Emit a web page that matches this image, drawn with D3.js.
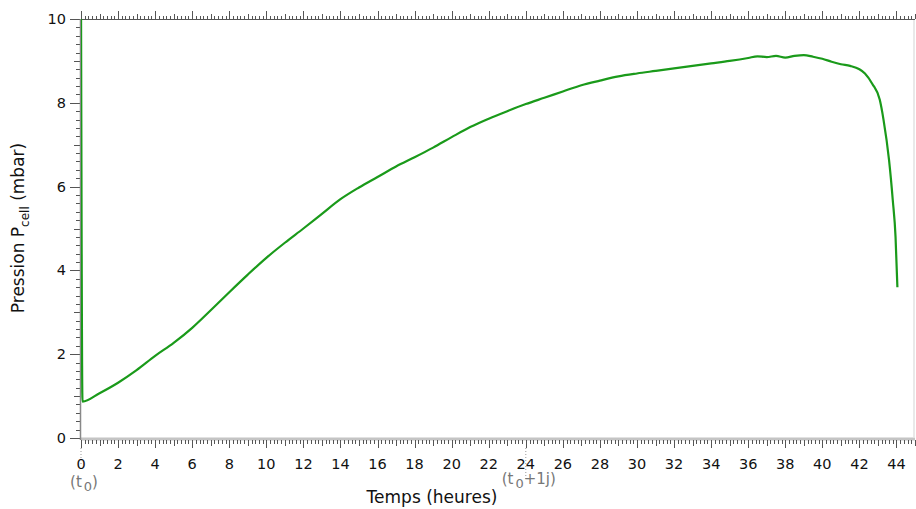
<!DOCTYPE html>
<html>
<head>
<meta charset="utf-8">
<script src="https://cdn.jsdelivr.net/npm/d3@7"></script>
<style>
  body { margin: 0; background: #fff; }
  text { font-family: "DejaVu Sans", Verdana, sans-serif; }
</style>
</head>
<body>
<script>
const width = 916;
const height = 509;

// temps (heures) et pression (mbar)
const hours = [0, 0.08, 1, 2, 3, 4, 5, 6, 7, 8, 9, 10, 11, 12, 13, 14, 15, 16, 17, 18, 19, 20,
  21, 22, 23, 24, 25, 26, 27, 28, 29, 30, 31, 32, 33, 34, 35, 36, 36.5, 37, 37.5, 38, 38.5, 39,
  39.5, 40, 40.5, 41, 41.5, 42, 42.3, 42.7, 43.1, 43.3, 43.6, 43.8, 43.95, 44.05];
const pressure = [10.6, 0.87, 1.07, 1.32, 1.62, 1.96, 2.27, 2.63, 3.05, 3.48, 3.9, 4.3, 4.66, 5.0,
  5.35, 5.7, 5.98, 6.23, 6.48, 6.7, 6.93, 7.18, 7.42, 7.62, 7.8, 7.97, 8.12, 8.27, 8.42, 8.53,
  8.63, 8.7, 8.76, 8.82, 8.88, 8.94, 9.0, 9.07, 9.11, 9.09, 9.12, 9.08, 9.12, 9.14, 9.1, 9.05,
  8.98, 8.92, 8.88, 8.8, 8.7, 8.45, 8.07, 7.6, 6.63, 5.68, 4.8, 3.6];
const xTicks = d3.range(0, 46, 2);
const yTicks = [0, 2, 4, 6, 8, 10];

let margin = { top: 19, right: 1, bottom: 71, left: 81 };

let svg = d3.select("body").append("svg")
  .attr("width", width)
  .attr("height", height);

let xScale = d3.scaleLinear().domain([0, 45]).range([margin.left, width - margin.right]);
let yScale = d3.scaleLinear().domain([0, 10]).range([height - margin.bottom, margin.top]);

let data = hours.map((h, i) => ({ h: h, p: pressure[i] }));

svg.append("clipPath").attr("id", "clip")
  .append("rect")
  .attr("x", margin.left)
  .attr("y", margin.top)
  .attr("width", width - margin.left - margin.right)
  .attr("height", yScale(0) - margin.top);

// frame lines
const frameColor = "#c4c4c4";
svg.append("line")
  .attr("x1", xScale(0)).attr("x2", xScale(45))
  .attr("y1", yScale(0) + 1).attr("y2", yScale(0) + 1)
  .attr("stroke", frameColor).attr("stroke-width", 3);
svg.append("line")
  .attr("x1", xScale(45) - 1).attr("x2", xScale(45) - 1)
  .attr("y1", yScale(10)).attr("y2", yScale(0))
  .attr("stroke", "#e2e2e2").attr("stroke-width", 1.5);

function tickLen(v, major, mid, small) {
  let r = Math.round(v * 10) / 10;
  if (Math.abs(r % 2) < 1e-6) return major;
  if (Math.abs(r % 1) < 1e-6) return mid;
  return small;
}

let minorX = d3.range(0, 45.01, 0.2);
let minorY = d3.range(0, 10.01, 0.2);

// bottom ticks (outside)
let bottomTicks = svg.append("g").attr("stroke", "#555").attr("stroke-width", 1);
bottomTicks.selectAll("line").data(minorX).join("line")
  .attr("x1", (d) => Math.round(xScale(d)) + 0.5)
  .attr("x2", (d) => Math.round(xScale(d)) + 0.5)
  .attr("y1", yScale(0) + 2)
  .attr("y2", (d) => yScale(0) + 2 + tickLen(d, 8, 6, 4));

// top ticks (outside)
let topTicks = svg.append("g").attr("stroke", "#555").attr("stroke-width", 1);
topTicks.selectAll("line").data(minorX).join("line")
  .attr("x1", (d) => Math.round(xScale(d)) + 0.5)
  .attr("x2", (d) => Math.round(xScale(d)) + 0.5)
  .attr("y1", yScale(10))
  .attr("y2", (d) => yScale(10) - tickLen(d, 8, 5, 3));
svg.append("line")
  .attr("x1", xScale(0)).attr("x2", xScale(45))
  .attr("y1", yScale(10) + 0.5).attr("y2", yScale(10) + 0.5)
  .attr("stroke", "#555").attr("stroke-width", 1);

// left ticks (outside)
let leftTicks = svg.append("g").attr("stroke", "#555").attr("stroke-width", 1);
leftTicks.selectAll("line").data(minorY).join("line")
  .attr("y1", (d) => Math.round(yScale(d)) + 0.5)
  .attr("y2", (d) => Math.round(yScale(d)) + 0.5)
  .attr("x1", xScale(0))
  .attr("x2", (d) => xScale(0) - tickLen(d, 11, 7, 5));
svg.append("line")
  .attr("x1", xScale(0) - 0.5).attr("x2", xScale(0) - 0.5)
  .attr("y1", yScale(10)).attr("y2", yScale(0) + 2)
  .attr("stroke", "#888").attr("stroke-width", 1.5);

// tick labels
svg.append("g").selectAll("text").data(xTicks).join("text")
  .attr("x", (d) => xScale(d))
  .attr("y", 469)
  .attr("text-anchor", "middle")
  .style("font-size", "14.5px")
  .attr("fill", "#111")
  .text((d) => d);

svg.append("g").selectAll("text").data(yTicks).join("text")
  .attr("x", 66)
  .attr("y", (d) => yScale(d) + 5)
  .attr("text-anchor", "end")
  .style("font-size", "14.5px")
  .attr("fill", "#111")
  .text((d) => d);

// markers t0 and t0+1j
const marks = [0, 24];
marks.forEach((h) => {
  svg.append("line")
    .attr("x1", xScale(h)).attr("x2", xScale(h))
    .attr("y1", 448).attr("y2", h === 0 ? 466 : 480)
    .attr("stroke", "#999").attr("stroke-dasharray", "1,2");
  let t = svg.append("text")
    .attr("x", xScale(h) + 3)
    .attr("y", h === 0 ? 487 : 484)
    .attr("text-anchor", "middle")
    .attr("fill", "#777")
    .style("font-size", "15px");
  t.append("tspan").text("(t");
  t.append("tspan").attr("dy", 4).attr("dx", 2).style("font-size", "13px").text("0");
  t.append("tspan").attr("dy", -4).text(h === 0 ? ")" : "+1j)");
});

// axis titles
svg.append("text")
  .attr("x", 432)
  .attr("y", 503)
  .attr("text-anchor", "middle")
  .style("font-size", "17px")
  .attr("fill", "#111")
  .text("Temps (heures)");

let yt = svg.append("text")
  .attr("text-anchor", "middle")
  .attr("transform", `translate(24, ${228}) rotate(270)`)
  .style("font-size", "17px")
  .attr("fill", "#111");
yt.append("tspan").text("Pression P");
yt.append("tspan").attr("dy", 5).style("font-size", "12px").text("cell");
yt.append("tspan").attr("dy", -5).text(" (mbar)");

// courbe
let line = d3.line()
  .x((d) => xScale(d.h))
  .y((d) => yScale(d.p))
  .curve(d3.curveMonotoneX);

svg.append("path")
  .datum(data)
  .attr("clip-path", "url(#clip)")
  .attr("fill", "none")
  .attr("stroke", "#1a9a1a")
  .attr("stroke-width", 2.2)
  .attr("d", line);
</script>
</body>
</html>
